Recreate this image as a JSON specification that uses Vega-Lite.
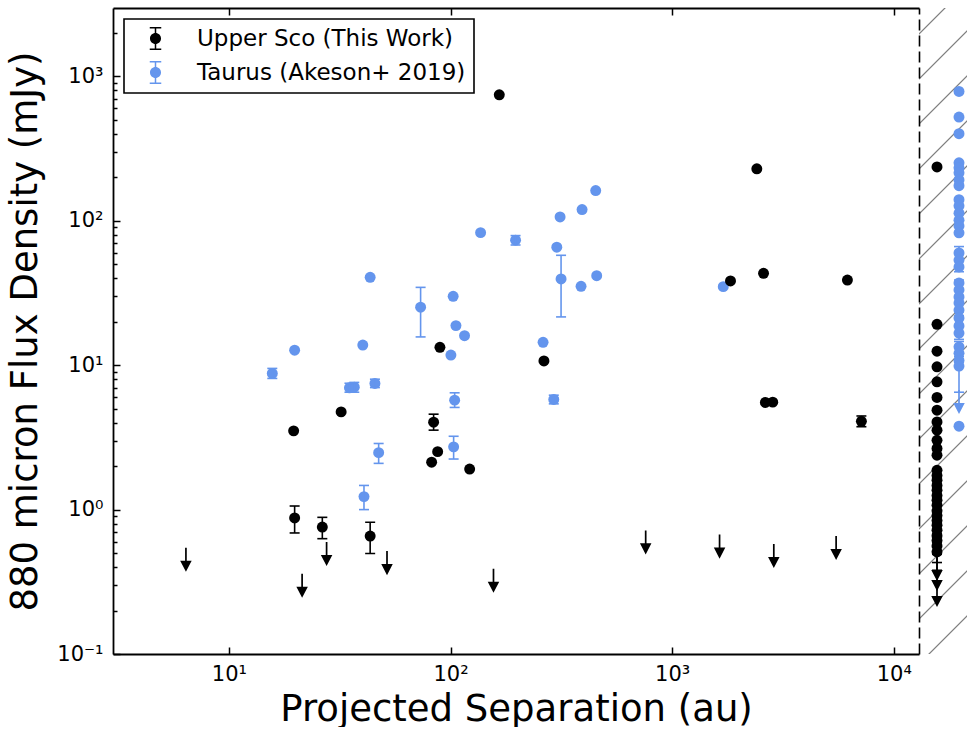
{
  "$schema": "https://vega.github.io/schema/vega-lite/v6.json",
  "padding": {"left": 6, "top": 7, "right": 0, "bottom": 0},
  "autosize": {"type": "pad"},
  "spacing": 0,
  "bounds": "flush",
  "config": {
    "font": "DejaVu Sans",
    "view": {"stroke": null},
    "axis": {
      "domainColor": "black", "domainWidth": 1.8, "tickColor": "black", "tickWidth": 1.5,
      "labelColor": "black", "titleColor": "black", "labelFont": "DejaVu Sans", "titleFont": "DejaVu Sans",
      "titleFontWeight": "normal", "grid": false, "labelFontSize": 21, "titleFontSize": 37
    },
    "legend": {"strokeColor": "black", "strokeWidth": 1.6, "fillColor": "white", "padding": 8, "cornerRadius": 0}
  },
  "datasets": {
    "binaries": [
      {"sample": "Taurus (Akeson+ 2019)", "sep": 43.4, "flux": 40.6},
      {"sample": "Taurus (Akeson+ 2019)", "sep": 73.3, "flux": 25.2, "lo": 15.7, "hi": 34.6},
      {"sample": "Taurus (Akeson+ 2019)", "sep": 102.8, "flux": 30.0},
      {"sample": "Taurus (Akeson+ 2019)", "sep": 105.8, "flux": 18.8},
      {"sample": "Taurus (Akeson+ 2019)", "sep": 115.7, "flux": 16.0},
      {"sample": "Taurus (Akeson+ 2019)", "sep": 19.8, "flux": 12.7},
      {"sample": "Taurus (Akeson+ 2019)", "sep": 40.2, "flux": 13.8},
      {"sample": "Taurus (Akeson+ 2019)", "sep": 100.4, "flux": 11.75},
      {"sample": "Taurus (Akeson+ 2019)", "sep": 136.7, "flux": 82.8},
      {"sample": "Taurus (Akeson+ 2019)", "sep": 196.6, "flux": 73.4, "lo": 68, "hi": 79},
      {"sample": "Taurus (Akeson+ 2019)", "sep": 312.2, "flux": 106.4},
      {"sample": "Taurus (Akeson+ 2019)", "sep": 392.3, "flux": 119.6},
      {"sample": "Taurus (Akeson+ 2019)", "sep": 452.1, "flux": 161.9},
      {"sample": "Taurus (Akeson+ 2019)", "sep": 301.7, "flux": 65.6},
      {"sample": "Taurus (Akeson+ 2019)", "sep": 315.4, "flux": 39.6, "lo": 21.6, "hi": 57.7},
      {"sample": "Taurus (Akeson+ 2019)", "sep": 388.2, "flux": 35.2},
      {"sample": "Taurus (Akeson+ 2019)", "sep": 456.7, "flux": 41.7},
      {"sample": "Taurus (Akeson+ 2019)", "sep": 261.6, "flux": 14.4},
      {"sample": "Taurus (Akeson+ 2019)", "sep": 292.4, "flux": 5.79, "lo": 5.4, "hi": 6.2},
      {"sample": "Taurus (Akeson+ 2019)", "sep": 104.4, "flux": 5.73, "lo": 5.10, "hi": 6.44},
      {"sample": "Taurus (Akeson+ 2019)", "sep": 103.3, "flux": 2.72, "lo": 2.24, "hi": 3.22},
      {"sample": "Taurus (Akeson+ 2019)", "sep": 1701, "flux": 35.0},
      {"sample": "Taurus (Akeson+ 2019)", "sep": 15.7, "flux": 8.77, "lo": 8.1, "hi": 9.5},
      {"sample": "Taurus (Akeson+ 2019)", "sep": 35.0, "flux": 6.97, "lo": 6.5, "hi": 7.5},
      {"sample": "Taurus (Akeson+ 2019)", "sep": 36.8, "flux": 7.05, "lo": 6.5, "hi": 7.6},
      {"sample": "Taurus (Akeson+ 2019)", "sep": 45.6, "flux": 7.48, "lo": 7.0, "hi": 8.0},
      {"sample": "Taurus (Akeson+ 2019)", "sep": 47.4, "flux": 2.48, "lo": 2.09, "hi": 2.87},
      {"sample": "Taurus (Akeson+ 2019)", "sep": 40.7, "flux": 1.23, "lo": 1.0, "hi": 1.47},
      {"sample": "Upper Sco (This Work)", "sep": 166, "flux": 746},
      {"sample": "Upper Sco (This Work)", "sep": 2411, "flux": 229},
      {"sample": "Upper Sco (This Work)", "sep": 2585, "flux": 43.3},
      {"sample": "Upper Sco (This Work)", "sep": 1834, "flux": 38.3},
      {"sample": "Upper Sco (This Work)", "sep": 6180, "flux": 38.9},
      {"sample": "Upper Sco (This Work)", "sep": 264, "flux": 10.7},
      {"sample": "Upper Sco (This Work)", "sep": 89.6, "flux": 13.3},
      {"sample": "Upper Sco (This Work)", "sep": 32.1, "flux": 4.75},
      {"sample": "Upper Sco (This Work)", "sep": 19.6, "flux": 3.51},
      {"sample": "Upper Sco (This Work)", "sep": 83.9, "flux": 4.03, "lo": 3.55, "hi": 4.58},
      {"sample": "Upper Sco (This Work)", "sep": 87.5, "flux": 2.52},
      {"sample": "Upper Sco (This Work)", "sep": 82.2, "flux": 2.13},
      {"sample": "Upper Sco (This Work)", "sep": 122, "flux": 1.91},
      {"sample": "Upper Sco (This Work)", "sep": 19.8, "flux": 0.875, "lo": 0.689, "hi": 1.059},
      {"sample": "Upper Sco (This Work)", "sep": 26.4, "flux": 0.757, "lo": 0.629, "hi": 0.884},
      {"sample": "Upper Sco (This Work)", "sep": 43.4, "flux": 0.656, "lo": 0.497, "hi": 0.817},
      {"sample": "Upper Sco (This Work)", "sep": 7145, "flux": 4.09, "lo": 3.75, "hi": 4.45},
      {"sample": "Upper Sco (This Work)", "sep": 2636, "flux": 5.52},
      {"sample": "Upper Sco (This Work)", "sep": 2844, "flux": 5.55}
    ],
    "binary_limits": [
      {"sample": "Upper Sco (This Work)", "sep": 6.40, "limit": 0.545},
      {"sample": "Upper Sco (This Work)", "sep": 21.4, "limit": 0.360},
      {"sample": "Upper Sco (This Work)", "sep": 27.6, "limit": 0.596},
      {"sample": "Upper Sco (This Work)", "sep": 51.7, "limit": 0.516},
      {"sample": "Upper Sco (This Work)", "sep": 156.3, "limit": 0.390},
      {"sample": "Upper Sco (This Work)", "sep": 759.8, "limit": 0.718},
      {"sample": "Upper Sco (This Work)", "sep": 1637, "limit": 0.671},
      {"sample": "Upper Sco (This Work)", "sep": 2876, "limit": 0.577},
      {"sample": "Upper Sco (This Work)", "sep": 5495, "limit": 0.656}
    ],
    "singles": [
      {"sample": "Upper Sco (This Work)", "flux": 236},
      {"sample": "Upper Sco (This Work)", "flux": 19.2},
      {"sample": "Upper Sco (This Work)", "flux": 12.5},
      {"sample": "Upper Sco (This Work)", "flux": 9.75},
      {"sample": "Upper Sco (This Work)", "flux": 7.67},
      {"sample": "Upper Sco (This Work)", "flux": 5.98},
      {"sample": "Upper Sco (This Work)", "flux": 4.88},
      {"sample": "Upper Sco (This Work)", "flux": 4.05},
      {"sample": "Upper Sco (This Work)", "flux": 3.55},
      {"sample": "Upper Sco (This Work)", "flux": 3.02},
      {"sample": "Upper Sco (This Work)", "flux": 2.65},
      {"sample": "Upper Sco (This Work)", "flux": 2.38},
      {"sample": "Upper Sco (This Work)", "flux": 1.87},
      {"sample": "Upper Sco (This Work)", "flux": 1.72},
      {"sample": "Upper Sco (This Work)", "flux": 1.60},
      {"sample": "Upper Sco (This Work)", "flux": 1.47},
      {"sample": "Upper Sco (This Work)", "flux": 1.36},
      {"sample": "Upper Sco (This Work)", "flux": 1.25},
      {"sample": "Upper Sco (This Work)", "flux": 1.16},
      {"sample": "Upper Sco (This Work)", "flux": 1.07},
      {"sample": "Upper Sco (This Work)", "flux": 0.98},
      {"sample": "Upper Sco (This Work)", "flux": 0.91},
      {"sample": "Upper Sco (This Work)", "flux": 0.84},
      {"sample": "Upper Sco (This Work)", "flux": 0.78},
      {"sample": "Upper Sco (This Work)", "flux": 0.72},
      {"sample": "Upper Sco (This Work)", "flux": 0.66},
      {"sample": "Upper Sco (This Work)", "flux": 0.61, "lo": 0.49, "hi": 0.72},
      {"sample": "Upper Sco (This Work)", "flux": 0.56, "lo": 0.43, "hi": 0.68},
      {"sample": "Upper Sco (This Work)", "flux": 0.51, "lo": 0.38, "hi": 0.63},
      {"sample": "Taurus (Akeson+ 2019)", "flux": 787},
      {"sample": "Taurus (Akeson+ 2019)", "flux": 523},
      {"sample": "Taurus (Akeson+ 2019)", "flux": 401},
      {"sample": "Taurus (Akeson+ 2019)", "flux": 252},
      {"sample": "Taurus (Akeson+ 2019)", "flux": 233},
      {"sample": "Taurus (Akeson+ 2019)", "flux": 215},
      {"sample": "Taurus (Akeson+ 2019)", "flux": 192},
      {"sample": "Taurus (Akeson+ 2019)", "flux": 175},
      {"sample": "Taurus (Akeson+ 2019)", "flux": 140},
      {"sample": "Taurus (Akeson+ 2019)", "flux": 127},
      {"sample": "Taurus (Akeson+ 2019)", "flux": 113},
      {"sample": "Taurus (Akeson+ 2019)", "flux": 101},
      {"sample": "Taurus (Akeson+ 2019)", "flux": 92.2},
      {"sample": "Taurus (Akeson+ 2019)", "flux": 82.5},
      {"sample": "Taurus (Akeson+ 2019)", "flux": 59.9},
      {"sample": "Taurus (Akeson+ 2019)", "flux": 53.5, "lo": 44.4, "hi": 66.3},
      {"sample": "Taurus (Akeson+ 2019)", "flux": 47.9},
      {"sample": "Taurus (Akeson+ 2019)", "flux": 37.1},
      {"sample": "Taurus (Akeson+ 2019)", "flux": 33.2},
      {"sample": "Taurus (Akeson+ 2019)", "flux": 29.7},
      {"sample": "Taurus (Akeson+ 2019)", "flux": 27.0, "lo": 22.0, "hi": 38.9},
      {"sample": "Taurus (Akeson+ 2019)", "flux": 24.1},
      {"sample": "Taurus (Akeson+ 2019)", "flux": 21.2},
      {"sample": "Taurus (Akeson+ 2019)", "flux": 18.7, "lo": 15.1, "hi": 23.4},
      {"sample": "Taurus (Akeson+ 2019)", "flux": 16.7},
      {"sample": "Taurus (Akeson+ 2019)", "flux": 13.4},
      {"sample": "Taurus (Akeson+ 2019)", "flux": 12.1, "lo": 9.8, "hi": 14.6},
      {"sample": "Taurus (Akeson+ 2019)", "flux": 10.8},
      {"sample": "Taurus (Akeson+ 2019)", "flux": 9.87, "lo": 6.5, "hi": 11.5},
      {"sample": "Taurus (Akeson+ 2019)", "flux": 3.78}
    ],
    "single_limits": [
      {"sample": "Upper Sco (This Work)", "limit": 0.47},
      {"sample": "Upper Sco (This Work)", "limit": 0.40},
      {"sample": "Upper Sco (This Work)", "limit": 0.31},
      {"sample": "Taurus (Akeson+ 2019)", "limit": 6.73}
    ]
  },
  "resolve": {"scale": {"color": "independent"}, "legend": {"color": "independent"}},
  "hconcat": [
    {
      "width": 806,
      "height": 646,
      "resolve": {"axis": {"x": "independent"}},
      "layer": [
        {
          "data": {"name": "binaries"},
          "mark": {"type": "point", "shape": "circle", "filled": true, "size": 120, "opacity": 1},
          "encoding": {
            "x": {"field": "sep", "type": "quantitative", "scale": {"type": "log", "domain": [3, 13000], "nice": false},
              "axis": {"orient": "bottom", "values": [10, 100, 1000, 10000], "tickSize": -7, "labelPadding": 16, "labelFlush": false, "labelOverlap": false,
                "labelExpr": "['10⁻¹','10⁰','10¹','10²','10³','10⁴'][round(log(datum.value)/LN10)+1]",
                "title": "Projected Separation (au)", "titlePadding": 7}},
            "y": {"field": "flux", "type": "quantitative", "scale": {"type": "log", "domain": [0.1, 2977], "nice": false},
              "axis": {"orient": "left",
                "values": [0.1,0.2,0.3,0.4,0.5,0.6,0.7,0.8,0.9,1,2,3,4,5,6,7,8,9,10,20,30,40,50,60,70,80,90,100,200,300,400,500,600,700,800,900,1000,2000],
                "tickSize": {"condition": {"test": "abs(log(datum.value)/LN10 - round(log(datum.value)/LN10)) < 0.001", "value": -7}, "value": -4},
                "labelPadding": 17, "labelOverlap": false,
                "labelExpr": "abs(log(datum.value)/LN10 - round(log(datum.value)/LN10)) < 0.001 ? ['10⁻¹','10⁰','10¹','10²','10³','10⁴'][round(log(datum.value)/LN10)+1] : ''",
                "title": "880 micron Flux Density (mJy)", "titlePadding": 12}},
            "color": {"field": "sample", "type": "nominal", "scale": {"domain": ["Upper Sco (This Work)", "Taurus (Akeson+ 2019)"], "range": ["#000000", "#6495ED"]},
              "legend": {"title": null, "orient": "top-left", "offset": 11, "labelFontSize": 23, "labelFont": "DejaVu Sans", "labelColor": "black", "labelLimit": 0,
                "symbolType": "M-0.48,0 C-0.48,-0.2651 -0.2651,-0.48 0,-0.48 C0.2651,-0.48 0.48,-0.2651 0.48,0 C0.48,0.2651 0.2651,0.48 0,0.48 C-0.2651,0.48 -0.48,0.2651 -0.48,0 Z M-0.065,-1 L0.065,-1 L0.065,1 L-0.065,1 Z M-0.5,-1 L0.5,-1 L0.5,-0.87 L-0.5,-0.87 Z M-0.5,0.87 L0.5,0.87 L0.5,1 L-0.5,1 Z",
                "symbolSize": 529, "symbolStrokeWidth": 0, "symbolOpacity": 1, "symbolOffset": 12, "labelOffset": 30, "rowPadding": 10}}
          }
        },
        {
          "data": {"name": "binaries"},
          "transform": [{"filter": "isValid(datum.lo)"}],
          "mark": {"type": "rule", "strokeWidth": 1.6},
          "encoding": {
            "x": {"field": "sep", "type": "quantitative", "scale": {"type": "log", "domain": [3, 13000], "nice": false},
              "axis": {"orient": "top", "values": [10, 100, 1000, 10000], "tickSize": -7, "labels": false, "title": null}},
            "y": {"field": "lo", "type": "quantitative", "scale": {"type": "log", "domain": [0.1, 2977], "nice": false}},
            "y2": {"field": "hi"},
            "color": {"field": "sample", "type": "nominal", "scale": {"domain": ["Upper Sco (This Work)", "Taurus (Akeson+ 2019)"], "range": ["#000000", "#6495ED"]}}
          }
        },
        {
          "data": {"name": "binaries"},
          "transform": [{"filter": "isValid(datum.lo)"}],
          "mark": {"type": "tick", "orient": "horizontal", "size": 10, "thickness": 1.6, "opacity": 1},
          "encoding": {
            "x": {"field": "sep", "type": "quantitative", "scale": {"type": "log", "domain": [3, 13000], "nice": false}, "axis": null},
            "y": {"field": "lo", "type": "quantitative", "scale": {"type": "log", "domain": [0.1, 2977], "nice": false}},
            "color": {"field": "sample", "type": "nominal", "scale": {"domain": ["Upper Sco (This Work)", "Taurus (Akeson+ 2019)"], "range": ["#000000", "#6495ED"]}}
          }
        },
        {
          "data": {"name": "binaries"},
          "transform": [{"filter": "isValid(datum.hi)"}],
          "mark": {"type": "tick", "orient": "horizontal", "size": 10, "thickness": 1.6, "opacity": 1},
          "encoding": {
            "x": {"field": "sep", "type": "quantitative", "scale": {"type": "log", "domain": [3, 13000], "nice": false}, "axis": null},
            "y": {"field": "hi", "type": "quantitative", "scale": {"type": "log", "domain": [0.1, 2977], "nice": false}},
            "color": {"field": "sample", "type": "nominal", "scale": {"domain": ["Upper Sco (This Work)", "Taurus (Akeson+ 2019)"], "range": ["#000000", "#6495ED"]}}
          }
        },
        {
          "data": {"name": "binary_limits"},
          "mark": {"type": "point", "shape": "M-0.074,0 L0.074,0 L0.074,1.13 L0.5,1.13 L0,2.09 L-0.5,1.13 L-0.074,1.13 Z", "filled": true, "size": 529, "opacity": 1, "strokeWidth": 0},
          "encoding": {
            "x": {"field": "sep", "type": "quantitative", "scale": {"type": "log", "domain": [3, 13000], "nice": false}, "axis": null},
            "y": {"field": "limit", "type": "quantitative", "scale": {"type": "log", "domain": [0.1, 2977], "nice": false}},
            "color": {"field": "sample", "type": "nominal", "scale": {"domain": ["Upper Sco (This Work)", "Taurus (Akeson+ 2019)"], "range": ["#000000", "#6495ED"]}}
          }
        }
      ]
    },
    {
      "width": 48,
      "height": 646,
      "layer": [
        {
          "data": {"values": [{}]},
          "mark": {"type": "rect", "stroke": null, "fill": {"gradient": "linear", "x1": 0, "y1": 0, "x2": 0.07939, "y2": 1.06841, "stops": [
            {"offset": 0.03559, "color": "rgba(128,128,128,0)"}, {"offset": 0.03674, "color": "#808080"}, {"offset": 0.03818, "color": "#808080"}, {"offset": 0.03934, "color": "rgba(128,128,128,0)"},
            {"offset": 0.10043, "color": "rgba(128,128,128,0)"}, {"offset": 0.10158, "color": "#808080"}, {"offset": 0.10302, "color": "#808080"}, {"offset": 0.10418, "color": "rgba(128,128,128,0)"},
            {"offset": 0.16527, "color": "rgba(128,128,128,0)"}, {"offset": 0.16642, "color": "#808080"}, {"offset": 0.16786, "color": "#808080"}, {"offset": 0.16902, "color": "rgba(128,128,128,0)"},
            {"offset": 0.23011, "color": "rgba(128,128,128,0)"}, {"offset": 0.23126, "color": "#808080"}, {"offset": 0.23270, "color": "#808080"}, {"offset": 0.23386, "color": "rgba(128,128,128,0)"},
            {"offset": 0.29495, "color": "rgba(128,128,128,0)"}, {"offset": 0.29610, "color": "#808080"}, {"offset": 0.29754, "color": "#808080"}, {"offset": 0.29870, "color": "rgba(128,128,128,0)"},
            {"offset": 0.35980, "color": "rgba(128,128,128,0)"}, {"offset": 0.36095, "color": "#808080"}, {"offset": 0.36239, "color": "#808080"}, {"offset": 0.36355, "color": "rgba(128,128,128,0)"},
            {"offset": 0.42464, "color": "rgba(128,128,128,0)"}, {"offset": 0.42579, "color": "#808080"}, {"offset": 0.42723, "color": "#808080"}, {"offset": 0.42839, "color": "rgba(128,128,128,0)"},
            {"offset": 0.48948, "color": "rgba(128,128,128,0)"}, {"offset": 0.49063, "color": "#808080"}, {"offset": 0.49207, "color": "#808080"}, {"offset": 0.49323, "color": "rgba(128,128,128,0)"},
            {"offset": 0.55432, "color": "rgba(128,128,128,0)"}, {"offset": 0.55547, "color": "#808080"}, {"offset": 0.55691, "color": "#808080"}, {"offset": 0.55807, "color": "rgba(128,128,128,0)"},
            {"offset": 0.61916, "color": "rgba(128,128,128,0)"}, {"offset": 0.62031, "color": "#808080"}, {"offset": 0.62175, "color": "#808080"}, {"offset": 0.62291, "color": "rgba(128,128,128,0)"},
            {"offset": 0.68400, "color": "rgba(128,128,128,0)"}, {"offset": 0.68515, "color": "#808080"}, {"offset": 0.68659, "color": "#808080"}, {"offset": 0.68775, "color": "rgba(128,128,128,0)"},
            {"offset": 0.74884, "color": "rgba(128,128,128,0)"}, {"offset": 0.74999, "color": "#808080"}, {"offset": 0.75143, "color": "#808080"}, {"offset": 0.75259, "color": "rgba(128,128,128,0)"},
            {"offset": 0.81368, "color": "rgba(128,128,128,0)"}, {"offset": 0.81484, "color": "#808080"}, {"offset": 0.81628, "color": "#808080"}, {"offset": 0.81743, "color": "rgba(128,128,128,0)"},
            {"offset": 0.87853, "color": "rgba(128,128,128,0)"}, {"offset": 0.87968, "color": "#808080"}, {"offset": 0.88112, "color": "#808080"}, {"offset": 0.88228, "color": "rgba(128,128,128,0)"},
            {"offset": 0.94337, "color": "rgba(128,128,128,0)"}, {"offset": 0.94452, "color": "#808080"}, {"offset": 0.94596, "color": "#808080"}, {"offset": 0.94712, "color": "rgba(128,128,128,0)"}
          ]}},
          "encoding": {}
        },
        {
          "data": {"name": "singles"},
          "transform": [{"filter": "isValid(datum.lo)"}],
          "mark": {"type": "rule", "strokeWidth": 1.6},
          "encoding": {
            "x": {"field": "sample", "type": "nominal", "scale": {"type": "point", "domain": ["Upper Sco (This Work)", "Taurus (Akeson+ 2019)"], "range": [18, 40], "padding": 0}, "axis": null},
            "y": {"field": "lo", "type": "quantitative", "scale": {"type": "log", "domain": [0.1, 2977], "nice": false},
              "axis": {"orient": "left", "domain": true, "domainDash": [11, 5], "domainWidth": 1.6, "ticks": false, "labels": false, "title": null, "zindex": 1}},
            "y2": {"field": "hi"},
            "color": {"field": "sample", "type": "nominal", "scale": {"domain": ["Upper Sco (This Work)", "Taurus (Akeson+ 2019)"], "range": ["#000000", "#6495ED"]}, "legend": null}
          }
        },
        {
          "data": {"name": "singles"},
          "transform": [{"filter": "isValid(datum.lo)"}],
          "mark": {"type": "tick", "orient": "horizontal", "size": 10, "thickness": 1.6, "opacity": 1},
          "encoding": {
            "x": {"field": "sample", "type": "nominal", "scale": {"type": "point", "domain": ["Upper Sco (This Work)", "Taurus (Akeson+ 2019)"], "range": [18, 40], "padding": 0}, "axis": null},
            "y": {"field": "lo", "type": "quantitative", "scale": {"type": "log", "domain": [0.1, 2977], "nice": false}},
            "color": {"field": "sample", "type": "nominal", "scale": {"domain": ["Upper Sco (This Work)", "Taurus (Akeson+ 2019)"], "range": ["#000000", "#6495ED"]}, "legend": null}
          }
        },
        {
          "data": {"name": "singles"},
          "transform": [{"filter": "isValid(datum.hi)"}],
          "mark": {"type": "tick", "orient": "horizontal", "size": 10, "thickness": 1.6, "opacity": 1},
          "encoding": {
            "x": {"field": "sample", "type": "nominal", "scale": {"type": "point", "domain": ["Upper Sco (This Work)", "Taurus (Akeson+ 2019)"], "range": [18, 40], "padding": 0}, "axis": null},
            "y": {"field": "hi", "type": "quantitative", "scale": {"type": "log", "domain": [0.1, 2977], "nice": false}},
            "color": {"field": "sample", "type": "nominal", "scale": {"domain": ["Upper Sco (This Work)", "Taurus (Akeson+ 2019)"], "range": ["#000000", "#6495ED"]}, "legend": null}
          }
        },
        {
          "data": {"name": "singles"},
          "mark": {"type": "point", "shape": "circle", "filled": true, "size": 120, "opacity": 1},
          "encoding": {
            "x": {"field": "sample", "type": "nominal", "scale": {"type": "point", "domain": ["Upper Sco (This Work)", "Taurus (Akeson+ 2019)"], "range": [18, 40], "padding": 0}, "axis": null},
            "y": {"field": "flux", "type": "quantitative", "scale": {"type": "log", "domain": [0.1, 2977], "nice": false}},
            "color": {"field": "sample", "type": "nominal", "scale": {"domain": ["Upper Sco (This Work)", "Taurus (Akeson+ 2019)"], "range": ["#000000", "#6495ED"]}, "legend": null}
          }
        },
        {
          "data": {"name": "single_limits"},
          "mark": {"type": "point", "shape": "M-0.074,0 L0.074,0 L0.074,1.13 L0.5,1.13 L0,2.09 L-0.5,1.13 L-0.074,1.13 Z", "filled": true, "size": 529, "opacity": 1, "strokeWidth": 0},
          "encoding": {
            "x": {"field": "sample", "type": "nominal", "scale": {"type": "point", "domain": ["Upper Sco (This Work)", "Taurus (Akeson+ 2019)"], "range": [18, 40], "padding": 0}, "axis": null},
            "y": {"field": "limit", "type": "quantitative", "scale": {"type": "log", "domain": [0.1, 2977], "nice": false}},
            "color": {"field": "sample", "type": "nominal", "scale": {"domain": ["Upper Sco (This Work)", "Taurus (Akeson+ 2019)"], "range": ["#000000", "#6495ED"]}, "legend": null}
          }
        }
      ]
    }
  ]
}
